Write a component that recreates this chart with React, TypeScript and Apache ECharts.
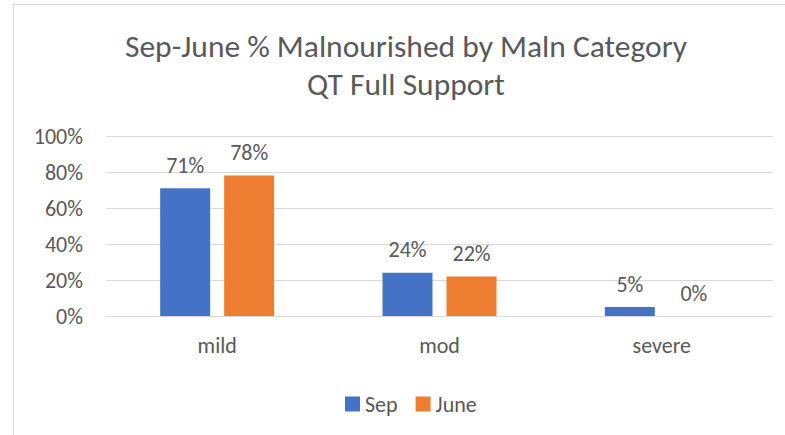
import React, { useEffect, useRef } from "react";
import * as echarts from "echarts";

const categories = ["mild", "mod", "severe"];
const sepValues = [71, 24, 5];
const juneValues = [78, 22, 0];
const seriesNames = ["Sep", "June"];
const titleLines = ["Sep-June % Malnourished by Maln Category", "QT Full Support"];

const FONT = "Carlito, 'Noto Sans', sans-serif";
const TXT = "#595959";

export default function App() {
  const ref = useRef<HTMLDivElement>(null);
  useEffect(() => {
    if (!ref.current) return;
    const chart = echarts.init(ref.current, undefined, { renderer: "svg" });
    const label = {
      show: true,
      position: "top" as const,
      distance: 12,
      formatter: (p: any) => `${p.value}%`,
      color: TXT,
      fontSize: 22,
      fontFamily: FONT,
    };
    chart.setOption({
      animation: false,
      textStyle: { fontFamily: FONT },
      graphic: [
        {
          type: "rect",
          shape: { x: 13.5, y: 4.5, width: 900, height: 600 },
          style: { fill: "none", stroke: "#d9d9d9", lineWidth: 1 },
          silent: true,
        },
        {
          type: "text",
          x: 406,
          y: 46,
          style: {
            text: titleLines[0],
            fill: TXT,
            fontSize: 31.5,
            fontFamily: FONT,
            align: "center",
            verticalAlign: "middle",
          },
        },
        {
          type: "text",
          x: 406,
          y: 84,
          style: {
            text: titleLines[1],
            fill: TXT,
            fontSize: 31.5,
            fontFamily: FONT,
            align: "center",
            verticalAlign: "middle",
          },
        },
      ],
      legend: {
        data: seriesNames,
        left: 340,
        top: 388,
        itemWidth: 15,
        itemHeight: 15,
        itemGap: 18,
        icon: "rect",
        textStyle: { color: TXT, fontSize: 22, fontFamily: FONT },
      },
      grid: { left: 106, right: 12, top: 136, bottom: 119 },
      xAxis: {
        type: "category",
        data: categories,
        axisTick: { show: false },
        axisLine: { lineStyle: { color: "#d9d9d9", width: 1 } },
        axisLabel: { color: TXT, fontSize: 22, fontFamily: FONT, margin: 18 },
      },
      yAxis: {
        type: "value",
        min: 0,
        max: 100,
        interval: 20,
        axisLabel: { color: TXT, fontSize: 22, fontFamily: FONT, formatter: "{value}%", margin: 23 },
        splitLine: { lineStyle: { color: "#d9d9d9", width: 1 } },
        axisLine: { show: false },
        axisTick: { show: false },
      },
      series: [
        {
          name: seriesNames[0],
          type: "bar",
          data: sepValues,
          barWidth: 50,
          barGap: "28%",
          itemStyle: { color: "#4472C4" },
          label,
        },
        {
          name: seriesNames[1],
          type: "bar",
          data: juneValues,
          barWidth: 50,
          itemStyle: { color: "#ED7D31" },
          label,
        },
      ],
    });
    return () => chart.dispose();
  }, []);
  return (
    <div
      ref={ref}
      style={{ position: "absolute", left: 0, top: 0, width: 785, height: 435, background: "#fff" }}
    />
  );
}
